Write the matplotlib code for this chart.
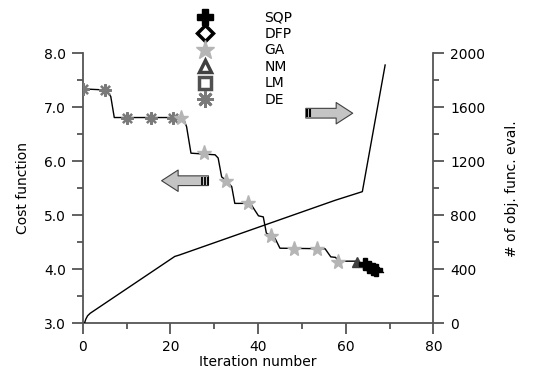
import numpy as np
import matplotlib
matplotlib.use('Agg')
import matplotlib.pyplot as plt
from matplotlib.lines import Line2D

plt.rcParams['font.family'] = ['DejaVu Sans']
plt.rcParams['font.size'] = 10

# cost function history (step-like line)
cost_x = [0, 5.3, 6.4, 7.2, 22.9, 23.7, 24.7, 30.2, 30.9, 31.7, 32.8, 34.0, 34.7,
          38.1, 38.5, 40.1, 41.2, 41.9, 42.9, 43.9, 45.0, 55.3, 56.6, 57.7, 58.3,
          62.2, 64.2, 66.5, 68.6]
cost_y = [7.34, 7.32, 7.2, 6.81, 6.81, 6.64, 6.15, 6.12, 6.06, 5.71, 5.64, 5.53, 5.22,
          5.22, 5.19, 4.99, 4.97, 4.67, 4.62, 4.57, 4.39, 4.38, 4.23, 4.22, 4.15,
          4.15, 4.10, 3.99, 3.94]

# markers by method
de_x = [0, 5.0, 10.2, 15.5, 20.5]
de_y = [7.34, 7.32, 6.81, 6.81, 6.81]
ga_x = [22.5, 27.6, 32.8, 37.8, 42.9, 48.2, 53.4, 58.3]
ga_y = [6.81, 6.15, 5.64, 5.22, 4.62, 4.38, 4.38, 4.14]
nm_x = [62.5]
nm_y = [4.14]
sqp_x = [64.3, 65.3, 66.3, 67.0]
sqp_y = [4.09, 4.05, 4.01, 3.98]

# number of objective function evaluations
ev_x = [0.4, 0.7, 1.1, 1.7, 21.0, 22.0, 57.6, 63.8, 69.0]
ev_y = [0, 30, 55, 74, 495, 505, 911, 975, 1913]

fig = plt.figure(figsize=(5.35, 3.73), dpi=100)
ax = fig.add_axes([0.1546, 0.1333, 0.6554, 0.7239])
ax2 = ax.twinx()

spc = '#555555'
for a in (ax, ax2):
    a.spines['top'].set_visible(False)
    for s in ('left', 'right', 'bottom'):
        a.spines[s].set_color(spc)
        a.spines[s].set_linewidth(1.3)
ax.spines['right'].set_visible(False)
ax2.spines['left'].set_visible(False)
ax2.spines['bottom'].set_visible(False)

ax.plot(cost_x, cost_y, color='black', lw=1.0, zorder=3)
ax.plot(de_x, de_y, ls='none', marker=(8, 2, 0), ms=9, mew=1.6, color='#7a7a7a', zorder=4)
ax.plot(ga_x, ga_y, ls='none', marker='*', ms=11, color='#b5b5b5', mec='#b5b5b5', zorder=4)
ax.plot(nm_x, nm_y, ls='none', marker='^', ms=7, color='#404040', zorder=4)
ax.plot(sqp_x, sqp_y, ls='none', marker='P', ms=8, color='black', zorder=5)

ax2.plot(ev_x, ev_y, color='black', lw=1.0)

ax.set_xlim(0, 80)
ax.set_ylim(3.0, 8.0)
ax2.set_ylim(0, 2000)
ax.set_xticks(np.arange(0, 81, 20))
ax.set_xticks(np.arange(10, 80, 20), minor=True)
ax.set_yticks(np.arange(3.0, 8.01, 1.0))
ax.set_yticks(np.arange(3.5, 8.0, 1.0), minor=True)
ax.set_yticklabels(['%.1f' % v for v in np.arange(3.0, 8.01, 1.0)])
ax2.set_yticks(np.arange(0, 2001, 400))
ax2.set_yticks(np.arange(200, 2000, 400), minor=True)

for a in (ax, ax2):
    a.tick_params(which='major', direction='out', length=8, width=1.3, color=spc, pad=4,
                  labelsize=10)
    a.tick_params(which='minor', direction='out', length=4, width=1.3, color=spc)

ax.set_xlabel('Iteration number', fontsize=10, labelpad=1)
ax.set_ylabel('Cost function', fontsize=10, labelpad=10)
ax2.set_ylabel('# of obj. func. eval.', fontsize=10, labelpad=14)

# direction arrows
arr = dict(arrowstyle='simple,head_length=0.85,head_width=1.1,tail_width=0.5',
           fc='#c4c4c4', ec='#404040', lw=0.8, shrinkA=0, shrinkB=0, mutation_scale=14)
left_tip, left_tail, left_y = 18.0, 28.7, 5.64
right_tip, right_tail, right_y = 61.6, 50.9, 6.89
ax.annotate('', xy=(left_tip, left_y), xytext=(left_tail, left_y), arrowprops=arr)
ax.annotate('', xy=(right_tip, right_y), xytext=(right_tail, right_y), arrowprops=arr)
ax.plot([left_tail - 1.4, left_tail - 0.8, left_tail - 0.2], [left_y] * 3, ls='none',
        marker='|', ms=6, mew=1.3, color='black', zorder=10)
ax.plot([right_tail + 0.3, right_tail + 0.9], [right_y] * 2, ls='none',
        marker='|', ms=6, mew=1.5, color='black', zorder=10)

handles = [
    Line2D([], [], ls='none', marker='P', ms=12, color='black'),
    Line2D([], [], ls='none', marker='D', ms=8, mfc='white', mec='black', mew=2.5),
    Line2D([], [], ls='none', marker='*', ms=14, color='#b5b5b5'),
    Line2D([], [], ls='none', marker='^', ms=9, mfc='white', mec='#404040', mew=2.5),
    Line2D([], [], ls='none', marker='s', ms=8, mfc='white', mec='#505050', mew=2.5),
    Line2D([], [], ls='none', marker=(8, 2, 0), ms=12, mew=2, color='#7a7a7a'),
]
labels = ['SQP', 'DFP', 'GA', 'NM', 'LM', 'DE']
fig.legend(handles, labels, loc='upper left', bbox_to_anchor=(0.370, 0.972),
           frameon=False, handlelength=1.0, handletextpad=3.8, labelspacing=0.18,
           borderpad=0, borderaxespad=0, fontsize=10)

fig.savefig('out.png', dpi=100)
